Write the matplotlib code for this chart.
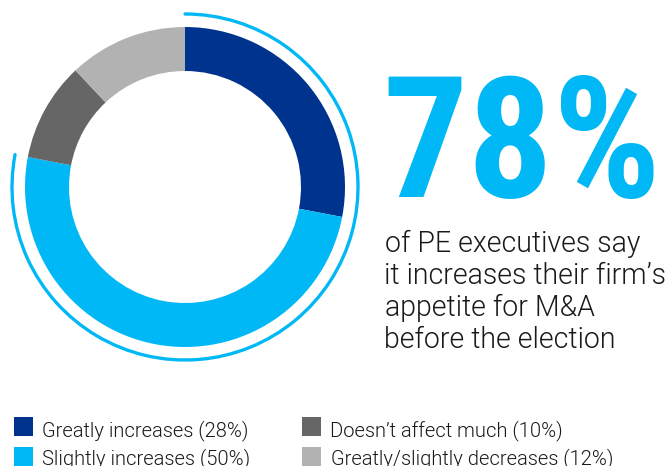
import os
import matplotlib
matplotlib.use("Agg")
import matplotlib.pyplot as plt
from matplotlib import font_manager as fm
from matplotlib.font_manager import FontProperties
from matplotlib.patches import Arc, Rectangle
from matplotlib.textpath import TextPath

# ---------------- data ----------------
categories = ["Greatly increases", "Slightly increases",
              "Doesn\u2019t affect much", "Greatly/slightly decreases"]
values = [28, 50, 10, 12]
colors = ["#00338D", "#00B8F5", "#666666", "#B2B2B2"]
headline_value = 78
headline_lines = ["of PE executives say", "it increases their firm\u2019s",
                  "appetite for M&A", "before the election"]

W, H = 671, 466
DPI = 100
PT = 72.0 / DPI  # points per pixel


def pick_font(names, fallback_family, weight="normal"):
    files = {os.path.basename(f.fname).lower(): f.fname for f in fm.fontManager.ttflist}
    for n in names:
        if n in files:
            return FontProperties(fname=files[n])
    return FontProperties(family=fallback_family, weight=weight)


big_font = pick_font(["liberationsansnarrow-bold.ttf", "robotocondensed-bold.ttf",
                      "opensans-condbold.ttf", "dejavusanscondensed-bold.ttf"],
                     "Liberation Sans", "bold")
body_font = pick_font(["roboto-light.ttf", "lato-light.ttf", "opensans-light.ttf",
                       "liberationsans-regular.ttf"], "Liberation Sans")


def ink(s, prop):
    ext = TextPath((0, 0), s, size=1.0, prop=prop).get_extents()
    return ext.x0, ext.y0, ext.width, ext.height


fig = plt.figure(figsize=(W / DPI, H / DPI), dpi=DPI)
ax = fig.add_axes([0, 0, 1, 1])

# donut
cx, cy = 185, H - 187
ax.pie(values, colors=colors, startangle=90, counterclock=False,
       radius=160, center=(cx, cy),
       wedgeprops=dict(width=44, linewidth=0, edgecolor="none"))

# outer arc showing share that increases appetite
share = values[0] + values[1]
ax.add_patch(Arc((cx, cy), 2 * 173, 2 * 173, theta1=90 - 360 * share / 100.0, theta2=90,
                 lw=3.3 * PT, color=colors[1], capstyle="round"))

# big headline number
big_text = f"{headline_value}%"
x0, y0, w, h = ink(big_text, big_font)
s = min(125.0 / h, 266.0 / w)  # px per em
ax.text(388 - x0 * s, H - 197, big_text, fontproperties=big_font,
        fontsize=s * PT, color=colors[1], ha="left", va="baseline")

# body text
x0, y0, w, h = ink(headline_lines[1], body_font)
sb = 279.0 / w
baselines = [252, 284, 316, 348]
for line, b in zip(headline_lines, baselines):
    lx0 = ink(line, body_font)[0]
    ax.text(386 - lx0 * sb, H - b, line, fontproperties=body_font,
            fontsize=sb * PT, color="#1A1A1A", ha="left", va="baseline")

# legend
leg_labels = [f"{c} ({v}%)" for c, v in zip(categories, values)]
x0, y0, w, h = ink(leg_labels[0], body_font)
sl = 204.0 / w
sq_x = [14, 14, 302, 302]
tx_x = [43, 43, 332, 332]
base = [436, 464, 436, 464]
sq_top = [417, 447, 417, 447]
for i, lab in enumerate(leg_labels):
    ax.add_patch(Rectangle((sq_x[i], H - sq_top[i] - 19), 19, 19, facecolor=colors[i],
                           edgecolor="none"))
    lx0 = ink(lab, body_font)[0]
    ax.text(tx_x[i] - lx0 * sl, H - base[i], lab, fontproperties=body_font,
            fontsize=sl * PT, color="#1A1A1A", ha="left", va="baseline")

ax.set_xlim(0, W)
ax.set_ylim(0, H)
ax.set_aspect("equal")
ax.axis("off")
fig.savefig("out.png", dpi=DPI, facecolor="white")
